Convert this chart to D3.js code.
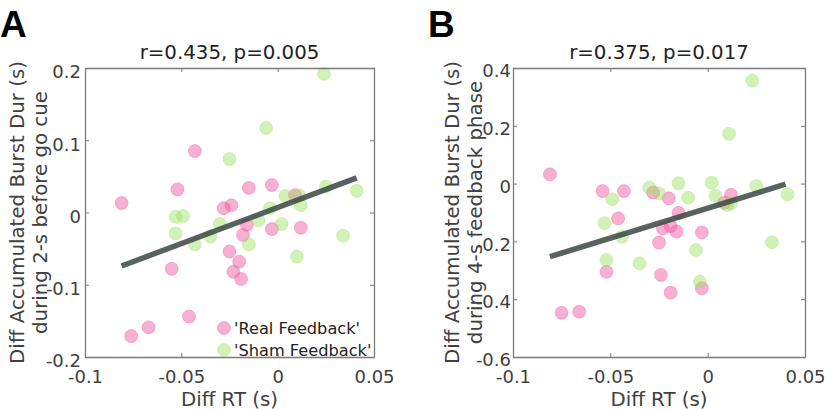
<!DOCTYPE html>
<html>
<head>
<meta charset="utf-8">
<script src="https://cdn.jsdelivr.net/npm/d3@7"></script>
<style>
html,body{margin:0;padding:0;background:#fff;}
svg{display:block;}
text{font-family:"DejaVu Sans",Verdana,sans-serif;}
</style>
</head>
<body>
<svg id="chart" width="829" height="409"></svg>
<script>
// ---------- DATA ----------
const xTicks = [-0.1, -0.05, 0, 0.05];
const xTickLabels = ["-0.1", "-0.05", "0", "0.05"];
const yTicksA = [-0.2, -0.1, 0, 0.1, 0.2];
const yTickLabelsA = ["-0.2", "-0.1", "0", "0.1", "0.2"];
const yTicksB = [-0.6, -0.4, -0.2, 0, 0.2, 0.4];
const yTickLabelsB = ["-0.6", "-0.4", "-0.2", "0", "0.2", "0.4"];

const seriesNames = ["'Real Feedback'", "'Sham Feedback'"];

// Panel A: [Diff RT, Diff Accumulated Burst Dur]
const realA = [
  [-0.043, 0.085], [-0.052, 0.032], [-0.015, 0.034], [-0.003, 0.038], [-0.081, 0.013],
  [0.009, 0.024], [-0.028, 0.006], [-0.024, 0.010], [-0.016, -0.017], [-0.018, -0.031],
  [-0.003, -0.023], [0.012, -0.021], [-0.025, -0.054], [-0.020, -0.068], [-0.023, -0.082],
  [-0.019, -0.092], [-0.055, -0.078], [-0.046, -0.144], [-0.067, -0.159], [-0.076, -0.171]
];
const shamA = [
  [0.024, 0.192], [-0.006, 0.117], [-0.025, 0.074], [0.004, 0.023], [0.011, 0.024],
  [0.025, 0.036], [0.041, 0.030], [-0.004, 0.006], [0.012, 0.010], [-0.053, -0.006],
  [-0.049, -0.005], [-0.030, -0.016], [-0.010, -0.011], [0.002, -0.016], [-0.053, -0.029],
  [-0.043, -0.044], [-0.035, -0.033], [-0.015, -0.044], [0.034, -0.032], [0.010, -0.061]
];
const fitA = [[-0.081, -0.074], [0.041, 0.048]];
const statA = "r=0.435, p=0.005";

// Panel B
const realB = [
  [-0.081, 0.032], [-0.054, -0.026], [-0.043, -0.026], [-0.028, -0.031], [-0.020, -0.051],
  [0.012, -0.039], [0.0085, -0.066], [-0.015, -0.101], [-0.046, -0.120], [-0.023, -0.155],
  [-0.019, -0.147], [-0.016, -0.166], [-0.003, -0.169], [-0.025, -0.204], [-0.052, -0.305],
  [-0.024, -0.316], [-0.003, -0.362], [-0.019, -0.377], [-0.075, -0.447], [-0.066, -0.443]
];
const shamB = [
  [0.023, 0.356], [0.011, 0.172], [-0.049, -0.054], [-0.030, -0.014], [-0.025, -0.034],
  [-0.015, 0.001], [-0.010, -0.049], [0.002, 0.003], [0.004, -0.042], [0.010, -0.074],
  [0.012, -0.068], [0.025, -0.008], [0.041, -0.037], [-0.053, -0.137], [-0.044, -0.184],
  [0.033, -0.203], [-0.006, -0.230], [-0.052, -0.264], [-0.035, -0.276], [-0.004, -0.339]
];
const fitB = [[-0.081, -0.253], [0.040, -0.002]];
const statB = "r=0.375, p=0.017";

const xLabel = "Diff RT (s)";
const yLabelA = ["Diff Accumulated Burst Dur (s)", "during 2-s before go cue"];
const yLabelB = ["Diff Accumulated Burst Dur (s)", "during 4-s feedback phase"];

// ---------- STYLE ----------
const realColor = "#f0509b";
const shamColor = "#9be15f";
const axisColor = "#7a7a7a";
const textColor = "#404040";
const fs = 18;       // tick labels
const fsLab = 19.8;  // axis labels & titles
const fsLeg = 16.2;  // legend

const svg = d3.select("#chart");

function panel(cfg) {
  const x = d3.scaleLinear().domain([-0.1, 0.05]).range([cfg.left, cfg.right]);
  const y = d3.scaleLinear().domain(cfg.yDomain).range([357, 68]);
  const g = svg.append("g");

  const line = d3.line().x(d => x(d[0])).y(d => y(d[1]));
  function dots(data, color) {
    g.append("g").selectAll("circle").data(data).join("circle")
      .attr("cx", d => x(d[0])).attr("cy", d => y(d[1])).attr("r", 6.5)
      .attr("fill", color).attr("fill-opacity", 0.45)
      .attr("stroke", color).attr("stroke-opacity", 0.35).attr("stroke-width", 1);
  }
  dots(cfg.real, realColor);
  dots(cfg.sham, shamColor);
  g.append("path").attr("d", line(cfg.fit))
    .attr("fill", "none").attr("stroke", "#3b4744").attr("stroke-opacity", 0.85)
    .attr("stroke-width", 5.5);

  function style(ax) {
    ax.select(".domain").attr("stroke", axisColor).attr("stroke-width", 1.3);
    ax.selectAll(".tick line").attr("stroke", axisColor).attr("stroke-width", 1);
    ax.selectAll("text").attr("fill", textColor).style("font-size", fs + "px")
      .style("font-family", '"DejaVu Sans", Verdana, sans-serif');
  }
  const bottom = g.append("g").attr("transform", `translate(0,357)`)
    .call(d3.axisBottom(x).tickValues(xTicks).tickFormat((d, i) => xTickLabels[i])
      .tickSizeInner(-4).tickSizeOuter(0).tickPadding(13.5));
  style(bottom);
  const top = g.append("g").attr("transform", `translate(0,68)`)
    .call(d3.axisTop(x).tickValues(xTicks).tickFormat("").tickSizeInner(-4).tickSizeOuter(0));
  style(top);
  const left = g.append("g").attr("transform", `translate(${cfg.left},0)`)
    .call(d3.axisLeft(y).tickValues(cfg.yTicks).tickFormat((d, i) => cfg.yTickLabels[i])
      .tickSizeInner(-4).tickSizeOuter(0).tickPadding(cfg.yPad));
  style(left);
  left.selectAll(".tick text").attr("dy", cfg.yDy);
  const right = g.append("g").attr("transform", `translate(${cfg.right},0)`)
    .call(d3.axisRight(y).tickValues(cfg.yTicks).tickFormat("").tickSizeInner(-4).tickSizeOuter(0));
  style(right);

  const cx = (cfg.left + cfg.right) / 2;
  g.append("text").attr("x", cx).attr("y", 59).attr("text-anchor", "middle")
    .attr("fill", "#222").style("font-size", fsLab + "px").text(cfg.stat);
  g.append("text").attr("x", cx).attr("y", 405.5).attr("text-anchor", "middle")
    .attr("fill", textColor).style("font-size", fsLab + "px").text(xLabel);
  cfg.yLabel.forEach((t, i) => {
    g.append("text").attr("transform", `translate(${cfg.yLabX[i]},212.5) rotate(-90)`)
      .attr("text-anchor", "middle").attr("fill", textColor)
      .style("font-size", fsLab + "px").text(t);
  });
  g.append("text").attr("x", cfg.letterX).attr("y", 37)
    .style("font-family", '"Liberation Sans", Arial, sans-serif')
    .style("font-weight", "bold").style("font-size", "37px").attr("fill", "#000")
    .text(cfg.letter);
  return {x, y, g};
}

const pA = panel({left: 85, right: 374, yDomain: [-0.2, 0.2], yTicks: yTicksA, yTickLabels: yTickLabelsA,
  yPad: 4, yDy: "0.55em", real: realA, sham: shamA, fit: fitA, stat: statA, yLabel: yLabelA,
  yLabX: [24, 47], letter: "A", letterX: 0});
const pB = panel({left: 513, right: 805, yDomain: [-0.6, 0.4], yTicks: yTicksB, yTickLabels: yTickLabelsB,
  yPad: 2, yDy: "0.48em", real: realB, sham: shamB, fit: fitB, stat: statB, yLabel: yLabelB,
  yLabX: [459, 482], letter: "B", letterX: 428});

// legend in panel A
const leg = pA.g.append("g");
[realColor, shamColor].forEach((c, i) => {
  const yy = 328 + i * 22;
  leg.append("circle").attr("cx", 224).attr("cy", yy).attr("r", 6.5)
    .attr("fill", c).attr("fill-opacity", 0.45).attr("stroke", c).attr("stroke-opacity", 0.35);
  leg.append("text").attr("x", 234).attr("y", yy + 6).attr("fill", "#222")
    .style("font-size", fsLeg + "px").text(seriesNames[i]);
});
</script>
</body>
</html>
